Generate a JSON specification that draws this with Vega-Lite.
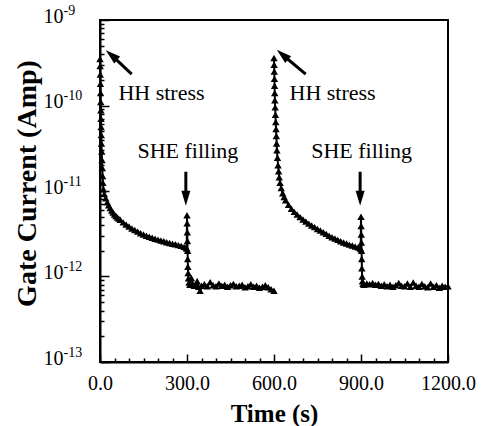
{
  "$schema": "https://vega.github.io/schema/vega-lite/v6.json",
  "width": 348,
  "height": 342,
  "autosize": {"type": "none"},
  "padding": {"left": 100, "top": 20, "right": 35, "bottom": 64},
  "background": "white",
  "config": {
    "view": {"stroke": "black", "strokeWidth": 2},
    "font": "Liberation Serif",
    "axis": {"grid": false, "labelFont": "Liberation Serif", "titleFont": "Liberation Serif", "labelColor": "black", "titleColor": "black", "tickColor": "black", "domainColor": "black"}
  },
  "datasets": {
    "series": [
      {"t": 0, "I": 3.5e-10, "run": "1"},
      {"t": 0.5, "I": 2.9e-10, "run": "1"},
      {"t": 1, "I": 2.3e-10, "run": "1"},
      {"t": 1.5, "I": 1.8e-10, "run": "1"},
      {"t": 2, "I": 1.4e-10, "run": "1"},
      {"t": 2.5, "I": 1.1e-10, "run": "1"},
      {"t": 3, "I": 8.8e-11, "run": "1"},
      {"t": 3.5, "I": 7e-11, "run": "1"},
      {"t": 4, "I": 5.6e-11, "run": "1"},
      {"t": 4.5, "I": 4.5e-11, "run": "1"},
      {"t": 5, "I": 3.6e-11, "run": "1"},
      {"t": 6, "I": 2.9e-11, "run": "1"},
      {"t": 7, "I": 2.3e-11, "run": "1"},
      {"t": 8, "I": 1.85e-11, "run": "1"},
      {"t": 9, "I": 1.5e-11, "run": "1"},
      {"t": 10, "I": 1.25e-11, "run": "1"},
      {"t": 12, "I": 1.05e-11, "run": "1"},
      {"t": 15, "I": 9.2e-12, "run": "1"},
      {"t": 20, "I": 8.2e-12, "run": "1"},
      {"t": 25, "I": 7.4e-12, "run": "1"},
      {"t": 30, "I": 6.8e-12, "run": "1"},
      {"t": 35, "I": 6.3e-12, "run": "1"},
      {"t": 40, "I": 5.9e-12, "run": "1"},
      {"t": 45, "I": 5.6e-12, "run": "1"},
      {"t": 50, "I": 5.3e-12, "run": "1"},
      {"t": 55, "I": 5.1e-12, "run": "1"},
      {"t": 60, "I": 4.9e-12, "run": "1"},
      {"t": 65, "I": 4.75e-12, "run": "1"},
      {"t": 70, "I": 4.6e-12, "run": "1"},
      {"t": 80, "I": 4.3e-12, "run": "1"},
      {"t": 90, "I": 4.05e-12, "run": "1"},
      {"t": 100, "I": 3.85e-12, "run": "1"},
      {"t": 110, "I": 3.65e-12, "run": "1"},
      {"t": 120, "I": 3.5e-12, "run": "1"},
      {"t": 130, "I": 3.35e-12, "run": "1"},
      {"t": 140, "I": 3.2e-12, "run": "1"},
      {"t": 150, "I": 3.1e-12, "run": "1"},
      {"t": 160, "I": 3.0e-12, "run": "1"},
      {"t": 170, "I": 2.92e-12, "run": "1"},
      {"t": 180, "I": 2.84e-12, "run": "1"},
      {"t": 190, "I": 2.76e-12, "run": "1"},
      {"t": 200, "I": 2.7e-12, "run": "1"},
      {"t": 210, "I": 2.64e-12, "run": "1"},
      {"t": 220, "I": 2.58e-12, "run": "1"},
      {"t": 230, "I": 2.52e-12, "run": "1"},
      {"t": 240, "I": 2.47e-12, "run": "1"},
      {"t": 250, "I": 2.42e-12, "run": "1"},
      {"t": 260, "I": 2.38e-12, "run": "1"},
      {"t": 270, "I": 2.33e-12, "run": "1"},
      {"t": 280, "I": 2.28e-12, "run": "1"},
      {"t": 290, "I": 2.22e-12, "run": "1"},
      {"t": 297, "I": 2.18e-12, "run": "1"},
      {"t": 299, "I": 2.12e-12, "run": "1"},
      {"t": 300, "I": 5.2e-12, "run": "1"},
      {"t": 300.5, "I": 4.2e-12, "run": "1"},
      {"t": 301, "I": 3.3e-12, "run": "1"},
      {"t": 301.5, "I": 2.6e-12, "run": "1"},
      {"t": 302, "I": 2.0e-12, "run": "1"},
      {"t": 302.5, "I": 1.6e-12, "run": "1"},
      {"t": 303, "I": 1.3e-12, "run": "1"},
      {"t": 304, "I": 1.1e-12, "run": "1"},
      {"t": 305, "I": 9.5e-13, "run": "1"},
      {"t": 307, "I": 8.5e-13, "run": "1"},
      {"t": 310, "I": 8.0e-13, "run": "1"},
      {"t": 315, "I": 9.6e-13, "run": "1"},
      {"t": 320, "I": 8.2e-13, "run": "1"},
      {"t": 325, "I": 7.8e-13, "run": "1"},
      {"t": 330, "I": 8.0e-13, "run": "1"},
      {"t": 335, "I": 8.8e-13, "run": "1"},
      {"t": 340, "I": 7.6e-13, "run": "1"},
      {"t": 345, "I": 6.8e-13, "run": "1"},
      {"t": 350, "I": 7.8e-13, "run": "1"},
      {"t": 360, "I": 8.1e-13, "run": "1"},
      {"t": 370, "I": 7.7e-13, "run": "1"},
      {"t": 380, "I": 8.6e-13, "run": "1"},
      {"t": 390, "I": 7.9e-13, "run": "1"},
      {"t": 400, "I": 7.7e-13, "run": "1"},
      {"t": 410, "I": 8.3e-13, "run": "1"},
      {"t": 420, "I": 7.8e-13, "run": "1"},
      {"t": 430, "I": 8.0e-13, "run": "1"},
      {"t": 440, "I": 7.6e-13, "run": "1"},
      {"t": 450, "I": 7.9e-13, "run": "1"},
      {"t": 460, "I": 8.2e-13, "run": "1"},
      {"t": 470, "I": 7.7e-13, "run": "1"},
      {"t": 480, "I": 7.8e-13, "run": "1"},
      {"t": 490, "I": 8.0e-13, "run": "1"},
      {"t": 500, "I": 7.5e-13, "run": "1"},
      {"t": 510, "I": 7.7e-13, "run": "1"},
      {"t": 520, "I": 8.1e-13, "run": "1"},
      {"t": 530, "I": 7.6e-13, "run": "1"},
      {"t": 540, "I": 7.8e-13, "run": "1"},
      {"t": 550, "I": 7.4e-13, "run": "1"},
      {"t": 560, "I": 7.6e-13, "run": "1"},
      {"t": 570, "I": 7.9e-13, "run": "1"},
      {"t": 580, "I": 7.5e-13, "run": "1"},
      {"t": 590, "I": 7.1e-13, "run": "1"},
      {"t": 600, "I": 6.8e-13, "run": "1"},
      {"t": 600, "I": 3.6e-10, "run": "2"},
      {"t": 600.5, "I": 3.0e-10, "run": "2"},
      {"t": 601, "I": 2.5e-10, "run": "2"},
      {"t": 601.5, "I": 2.05e-10, "run": "2"},
      {"t": 602, "I": 1.7e-10, "run": "2"},
      {"t": 602.5, "I": 1.4e-10, "run": "2"},
      {"t": 603, "I": 1.15e-10, "run": "2"},
      {"t": 604, "I": 9.5e-11, "run": "2"},
      {"t": 605, "I": 7.8e-11, "run": "2"},
      {"t": 606, "I": 6.4e-11, "run": "2"},
      {"t": 607, "I": 5.3e-11, "run": "2"},
      {"t": 608, "I": 4.4e-11, "run": "2"},
      {"t": 609, "I": 3.6e-11, "run": "2"},
      {"t": 610, "I": 3.0e-11, "run": "2"},
      {"t": 612, "I": 2.45e-11, "run": "2"},
      {"t": 614, "I": 2.0e-11, "run": "2"},
      {"t": 616, "I": 1.7e-11, "run": "2"},
      {"t": 618, "I": 1.45e-11, "run": "2"},
      {"t": 621, "I": 1.25e-11, "run": "2"},
      {"t": 625, "I": 1.08e-11, "run": "2"},
      {"t": 630, "I": 9.4e-12, "run": "2"},
      {"t": 635, "I": 8.5e-12, "run": "2"},
      {"t": 640, "I": 7.8e-12, "run": "2"},
      {"t": 650, "I": 6.9e-12, "run": "2"},
      {"t": 660, "I": 6.2e-12, "run": "2"},
      {"t": 670, "I": 5.7e-12, "run": "2"},
      {"t": 680, "I": 5.3e-12, "run": "2"},
      {"t": 690, "I": 4.95e-12, "run": "2"},
      {"t": 700, "I": 4.65e-12, "run": "2"},
      {"t": 710, "I": 4.4e-12, "run": "2"},
      {"t": 720, "I": 4.15e-12, "run": "2"},
      {"t": 730, "I": 3.95e-12, "run": "2"},
      {"t": 740, "I": 3.78e-12, "run": "2"},
      {"t": 750, "I": 3.6e-12, "run": "2"},
      {"t": 760, "I": 3.45e-12, "run": "2"},
      {"t": 770, "I": 3.3e-12, "run": "2"},
      {"t": 780, "I": 3.15e-12, "run": "2"},
      {"t": 790, "I": 3.0e-12, "run": "2"},
      {"t": 800, "I": 2.88e-12, "run": "2"},
      {"t": 810, "I": 2.78e-12, "run": "2"},
      {"t": 820, "I": 2.68e-12, "run": "2"},
      {"t": 830, "I": 2.58e-12, "run": "2"},
      {"t": 840, "I": 2.5e-12, "run": "2"},
      {"t": 850, "I": 2.43e-12, "run": "2"},
      {"t": 860, "I": 2.36e-12, "run": "2"},
      {"t": 870, "I": 2.3e-12, "run": "2"},
      {"t": 880, "I": 2.24e-12, "run": "2"},
      {"t": 890, "I": 2.19e-12, "run": "2"},
      {"t": 897, "I": 2.15e-12, "run": "2"},
      {"t": 899, "I": 2.1e-12, "run": "2"},
      {"t": 900, "I": 5.0e-12, "run": "2"},
      {"t": 900.5, "I": 3.9e-12, "run": "2"},
      {"t": 901, "I": 3.1e-12, "run": "2"},
      {"t": 901.5, "I": 2.5e-12, "run": "2"},
      {"t": 902, "I": 2.0e-12, "run": "2"},
      {"t": 902.5, "I": 1.6e-12, "run": "2"},
      {"t": 903, "I": 1.25e-12, "run": "2"},
      {"t": 904, "I": 1.0e-12, "run": "2"},
      {"t": 905, "I": 8.8e-13, "run": "2"},
      {"t": 907, "I": 8.2e-13, "run": "2"},
      {"t": 910, "I": 8.0e-13, "run": "2"},
      {"t": 920, "I": 8.3e-13, "run": "2"},
      {"t": 930, "I": 8.1e-13, "run": "2"},
      {"t": 940, "I": 8.4e-13, "run": "2"},
      {"t": 950, "I": 8.0e-13, "run": "2"},
      {"t": 960, "I": 8.2e-13, "run": "2"},
      {"t": 970, "I": 7.8e-13, "run": "2"},
      {"t": 980, "I": 8.1e-13, "run": "2"},
      {"t": 990, "I": 7.7e-13, "run": "2"},
      {"t": 1000, "I": 8.0e-13, "run": "2"},
      {"t": 1010, "I": 7.6e-13, "run": "2"},
      {"t": 1020, "I": 7.9e-13, "run": "2"},
      {"t": 1030, "I": 8.4e-13, "run": "2"},
      {"t": 1040, "I": 7.8e-13, "run": "2"},
      {"t": 1050, "I": 7.7e-13, "run": "2"},
      {"t": 1060, "I": 8.3e-13, "run": "2"},
      {"t": 1070, "I": 7.6e-13, "run": "2"},
      {"t": 1080, "I": 8.5e-13, "run": "2"},
      {"t": 1090, "I": 7.8e-13, "run": "2"},
      {"t": 1100, "I": 7.6e-13, "run": "2"},
      {"t": 1110, "I": 8.2e-13, "run": "2"},
      {"t": 1120, "I": 7.7e-13, "run": "2"},
      {"t": 1130, "I": 7.5e-13, "run": "2"},
      {"t": 1140, "I": 8.3e-13, "run": "2"},
      {"t": 1150, "I": 7.6e-13, "run": "2"},
      {"t": 1160, "I": 7.9e-13, "run": "2"},
      {"t": 1170, "I": 7.4e-13, "run": "2"},
      {"t": 1180, "I": 7.8e-13, "run": "2"},
      {"t": 1190, "I": 7.6e-13, "run": "2"},
      {"t": 1200, "I": 7.7e-13, "run": "2"}
    ],
    "arrows": [
      {"kind": "hh", "t": 109.3, "I": 2.33e-10, "t2": 39.7, "I2": 3.89e-10},
      {"kind": "hh", "t": 709.3, "I": 2.33e-10, "t2": 629.3, "I2": 3.92e-10},
      {"kind": "she", "t": 296, "I": 1.68e-11, "t2": 296, "I2": 8.24e-12},
      {"kind": "she", "t": 897, "I": 1.68e-11, "t2": 897, "I2": 8.24e-12}
    ],
    "notes": [
      {"t": 212, "I": 1.16e-10, "text": "HH stress"},
      {"t": 802, "I": 1.16e-10, "text": "HH stress"},
      {"t": 303, "I": 2.43e-11, "text": "SHE filling"},
      {"t": 902, "I": 2.43e-11, "text": "SHE filling"}
    ],
    "decades": [
      {"I": 1e-13}, {"I": 1e-12}, {"I": 1e-11}, {"I": 1e-10}, {"I": 1e-9}
    ]
  },
  "resolve": {"axis": {"x": "independent", "y": "independent"}},
  "layer": [
    {
      "data": {"name": "series"},
      "mark": {"type": "point", "opacity": 0},
      "encoding": {
        "x": {"field": "t", "type": "quantitative", "scale": {"domain": [0, 1200], "nice": false, "zero": false},
          "axis": {"orient": "bottom", "values": [50, 100, 150, 200, 250, 350, 400, 450, 500, 550, 650, 700, 750, 800, 850, 950, 1000, 1050, 1100, 1150], "labels": false, "domain": false, "tickSize": -4, "tickWidth": 1.5, "title": null}},
        "y": {"field": "I", "type": "quantitative", "scale": {"type": "log", "domain": [1e-13, 1e-9], "nice": false},
          "axis": {"orient": "left", "values": [2e-13, 3e-13, 4e-13, 5e-13, 6e-13, 7e-13, 8e-13, 9e-13, 2e-12, 3e-12, 4e-12, 5e-12, 6e-12, 7e-12, 8e-12, 9e-12, 2e-11, 3e-11, 4e-11, 5e-11, 6e-11, 7e-11, 8e-11, 9e-11, 2e-10, 3e-10, 4e-10, 5e-10, 6e-10, 7e-10, 8e-10, 9e-10], "labels": false, "domain": false, "tickSize": -4, "tickWidth": 1.5, "title": null}}
      }
    },
    {
      "data": {"name": "decades"},
      "mark": {"type": "point", "opacity": 0},
      "encoding": {
        "y": {"field": "I", "type": "quantitative",
          "axis": {"orient": "left", "values": [1e-13, 1e-12, 1e-11, 1e-10, 1e-9], "ticks": false, "domain": false,
            "labelPadding": 37, "labelAlign": "left", "labelFontSize": 14, "labelOffset": -10, "labelOverlap": false, "labelFlush": false,
            "labelExpr": "'-' + round(-log(datum.value)/LN10)", "title": null}}
      }
    },
    {
      "data": {"name": "series"},
      "mark": {"type": "line", "color": "black", "strokeWidth": 2,
        "point": {"filled": true, "shape": "triangle-up", "size": 55, "color": "black"}},
      "encoding": {
        "x": {"field": "t", "type": "quantitative",
          "axis": {"orient": "bottom", "values": [0, 300, 600, 900, 1200], "format": ".1f", "tickSize": -8, "tickWidth": 1.5,
            "labelPadding": 19, "labelFontSize": 20, "labelFlush": false, "labelOverlap": false,
            "domainWidth": 2, "title": "Time (s)", "titleFontSize": 25, "titleFontWeight": "bold", "titlePadding": 8}},
        "y": {"field": "I", "type": "quantitative",
          "axis": {"orient": "left", "values": [1e-13, 1e-12, 1e-11, 1e-10, 1e-9], "tickSize": -9, "tickWidth": 1.5,
            "labelPadding": 46, "labelFontSize": 20, "labelOffset": -4, "labelOverlap": false, "labelFlush": false,
            "labelExpr": "'10'",
            "domainWidth": 2, "title": "Gate Current (Amp)", "titleFontSize": 28, "titleFontWeight": "bold",
            "titleX": -73, "titleY": 163, "titleBaseline": "middle"}},
        "detail": {"field": "run", "type": "nominal"}
      }
    },
    {
      "data": {"name": "arrows"},
      "mark": {"type": "rule", "color": "black", "strokeWidth": 3},
      "encoding": {
        "x": {"field": "t", "type": "quantitative", "axis": null},
        "y": {"field": "I", "type": "quantitative", "axis": null},
        "x2": {"field": "t2"},
        "y2": {"field": "I2"}
      }
    },
    {
      "data": {"name": "arrows"},
      "transform": [{"filter": "datum.kind == 'hh'"}],
      "mark": {"type": "point", "shape": "M-0.6,-1L0.6,-1L0,1Z", "filled": true, "color": "black", "opacity": 1, "size": 225, "angle": 131},
      "encoding": {
        "x": {"field": "t2", "type": "quantitative", "axis": null},
        "y": {"field": "I2", "type": "quantitative", "axis": null}
      }
    },
    {
      "data": {"name": "arrows"},
      "transform": [{"filter": "datum.kind == 'she'"}],
      "mark": {"type": "point", "shape": "M-0.6,-1L0.6,-1L0,1Z", "filled": true, "color": "black", "opacity": 1, "size": 225, "angle": 0},
      "encoding": {
        "x": {"field": "t2", "type": "quantitative", "axis": null},
        "y": {"field": "I2", "type": "quantitative", "axis": null}
      }
    },
    {
      "data": {"name": "notes"},
      "mark": {"type": "text", "font": "Liberation Serif", "fontSize": 22, "color": "black", "align": "center", "baseline": "alphabetic"},
      "encoding": {
        "x": {"field": "t", "type": "quantitative", "axis": null},
        "y": {"field": "I", "type": "quantitative", "axis": null},
        "text": {"field": "text", "type": "nominal"}
      }
    }
  ]
}
